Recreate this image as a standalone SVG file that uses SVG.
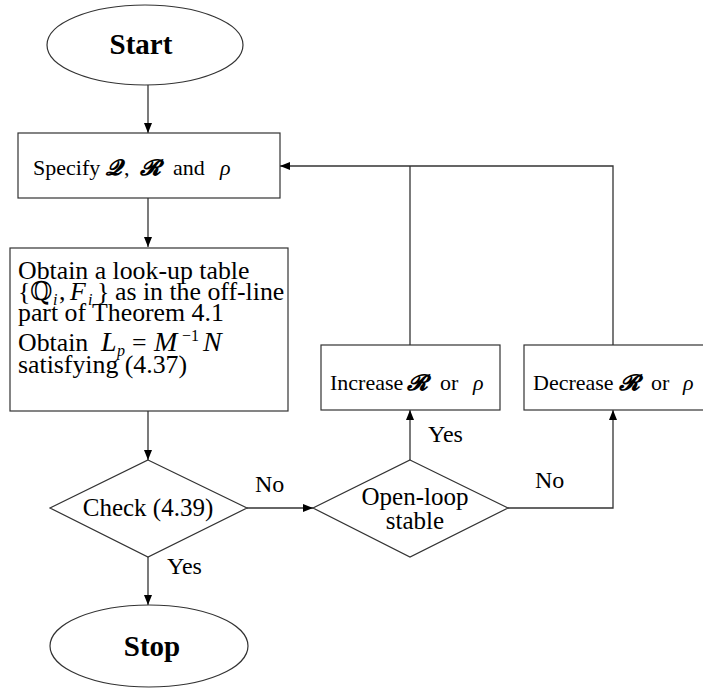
<svg xmlns="http://www.w3.org/2000/svg" width="703" height="688" viewBox="0 0 703 688">
<style>
.shape{fill:#fff;stroke:#333;stroke-width:1.2}
.line{fill:none;stroke:#333;stroke-width:1.3}
text{font-family:"Liberation Serif","DejaVu Serif",serif;font-size:24px;fill:#000}
.b{font-weight:bold;font-size:29px}
.it{font-style:italic}
.m{font-family:"DejaVu Serif","DejaVu Sans",serif;font-weight:bold;font-style:italic;font-size:22px}
.s{font-size:16px}
.f22{font-size:22px}
.f25{font-size:25px}
.f26{font-size:25.8px}
.big{font-size:28px}
</style>
<defs>
<marker id="ah" viewBox="0 0 10 8" refX="10" refY="4" markerWidth="10" markerHeight="8" markerUnits="userSpaceOnUse" orient="auto">
<path d="M0,0 L10,4 L0,8 Z" fill="#000"/>
</marker>
</defs>
<g id="connectors">
<line class="line" x1="148" y1="85" x2="148" y2="133" marker-end="url(#ah)"/>
<line class="line" x1="148" y1="198" x2="148" y2="247" marker-end="url(#ah)"/>
<line class="line" x1="148" y1="411" x2="148" y2="460" marker-end="url(#ah)"/>
<line class="line" x1="148" y1="557" x2="148" y2="605" marker-end="url(#ah)"/>
<line class="line" x1="247" y1="508" x2="313" y2="508" marker-end="url(#ah)"/>
<line class="line" x1="410" y1="460" x2="410" y2="410" marker-end="url(#ah)"/>
<polyline class="line" points="508,508 613,508 613,410" marker-end="url(#ah)"/>
<line class="line" x1="410" y1="345" x2="410" y2="166"/>
<polyline class="line" points="613,345 613,166 280,166" marker-end="url(#ah)"/>
<text x="255" y="492">No</text>
<text x="167" y="574">Yes</text>
<text x="428" y="442">Yes</text>
<text x="535" y="488">No</text>
</g>
<g id="start">
<ellipse class="shape" cx="145" cy="45" rx="98" ry="40"/>
<text class="b" x="141" y="54" text-anchor="middle">Start</text>
</g>
<g id="specify">
<rect class="shape" x="18" y="133" width="262" height="65"/>
<text class="f22" y="175"><tspan x="33">Specify</tspan><tspan class="m" x="106">𝓠</tspan><tspan x="124">,</tspan><tspan class="m" x="140">𝓡</tspan><tspan x="173">and</tspan><tspan class="it" x="220">ρ</tspan></text>
</g>
<g id="obtain">
<rect class="shape" x="10" y="248" width="278" height="163"/>
<text class="f26" x="18" y="279">Obtain a look-up table</text>
<text class="f26" y="300"><tspan x="18">{</tspan><tspan x="30">ℚ</tspan><tspan class="it s" x="53" dy="5">i</tspan><tspan x="59" dy="-5">,</tspan><tspan class="it" x="70">F</tspan><tspan class="it s" x="88" dy="5">i</tspan><tspan x="97" dy="-5">}</tspan><tspan x="115">as in the off-line</tspan></text>
<text class="f26" x="18" y="321">part of Theorem 4.1</text>
<text class="f26" y="351"><tspan x="18">Obtain</tspan><tspan class="it big" x="101">L</tspan><tspan class="it s" x="117" dy="5">p</tspan><tspan x="132" dy="-5">=</tspan><tspan class="it big" x="154">M</tspan><tspan class="s" x="182" dy="-10">−1</tspan><tspan class="it big" x="203" dy="10">N</tspan></text>
<text class="f26" x="18" y="373">satisfying (4.37)</text>
</g>
<g id="check">
<polygon class="shape" points="148,460 247,508 148,557 50,508"/>
<text class="f25" x="148" y="516" text-anchor="middle">Check (4.39)</text>
</g>
<g id="stop">
<ellipse class="shape" cx="149" cy="646" rx="99" ry="41"/>
<text class="b" x="152" y="656" text-anchor="middle">Stop</text>
</g>
<g id="openloop">
<polygon class="shape" points="410,460 508,508 410,557 313,508"/>
<text class="f25" x="415" y="505" text-anchor="middle">Open-loop</text>
<text class="f25" x="415" y="529" text-anchor="middle">stable</text>
</g>
<g id="increase">
<rect class="shape" x="321" y="345" width="179" height="65"/>
<text class="f22" y="390"><tspan x="330">Increase</tspan><tspan class="m" x="407">𝓡</tspan><tspan x="440">or</tspan><tspan class="it" x="473">ρ</tspan></text>
</g>
<g id="decrease">
<rect class="shape" x="524" y="345" width="190" height="65"/>
<text class="f22" y="390"><tspan x="533">Decrease</tspan><tspan class="m" x="619">𝓡</tspan><tspan x="651">or</tspan><tspan class="it" x="683">ρ</tspan></text>
</g>
</svg>
